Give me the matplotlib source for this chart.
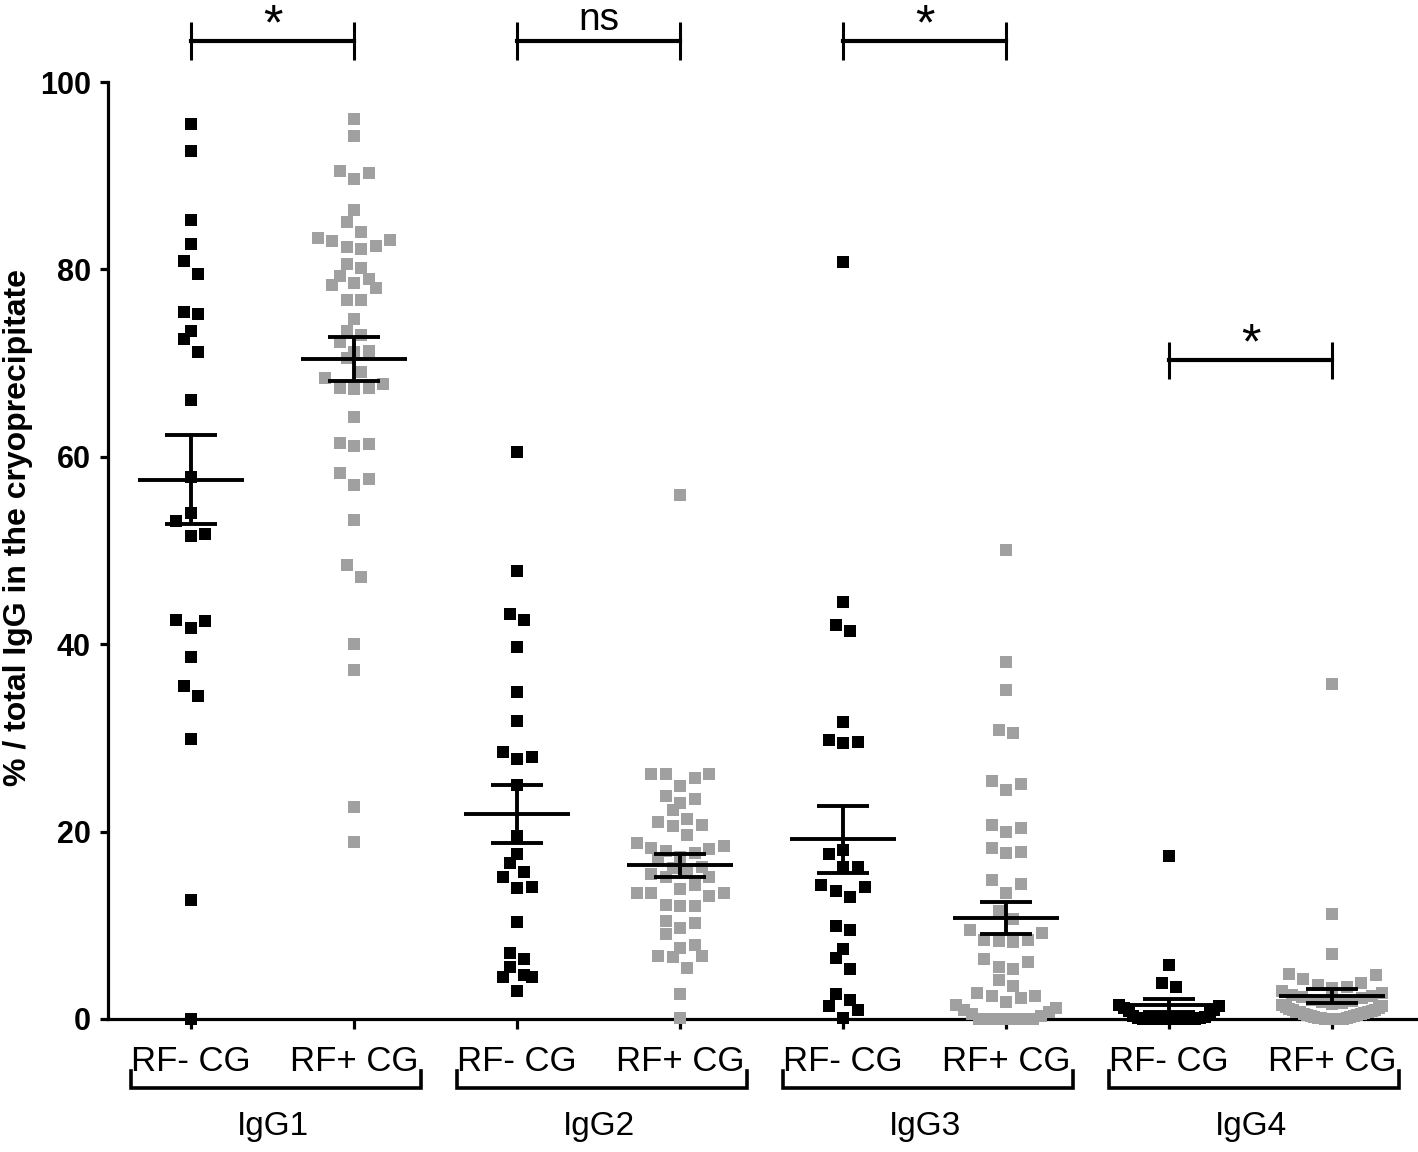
import numpy as np
import matplotlib.pyplot as plt

plt.rcParams['font.family'] = ['Liberation Sans', 'DejaVu Sans']

# categories
subclasses = ['IgG1', 'IgG2', 'IgG3', 'IgG4']
conditions = ['RF- CG', 'RF+ CG']
significance = ['*', 'ns', '*', '*']

# % of total IgG in the cryoprecipitate
igg1_neg = [95.5, 92.6, 85.3, 82.7, 80.9, 79.5, 75.2, 75.5, 73.4, 72.6, 71.2, 66.1, 57.8,
            54.0, 53.1, 51.6, 51.8, 42.5, 41.7, 42.6, 38.6, 35.5, 34.5, 29.9, 12.7, 0.0]
igg1_pos = [96.1, 94.2, 90.5, 89.6, 90.3, 86.3, 85.1, 84.0, 83.1, 82.5, 82.2, 82.4, 83.0,
            83.4, 80.6, 80.2, 79.3, 79.0, 78.6, 78.0, 78.3, 76.7, 76.7, 74.7, 73.4, 73.0,
            72.3, 71.3, 71.2, 70.5, 69.1, 68.4, 67.8, 67.3, 67.2, 67.3, 64.2, 61.4, 61.1,
            61.5, 58.3, 57.0, 57.6, 53.3, 48.4, 47.2, 40.0, 37.2, 22.6, 18.9]
igg2_neg = [60.5, 47.8, 43.2, 42.6, 39.7, 34.9, 31.8, 28.0, 27.7, 28.5, 25.0, 19.5, 17.6,
            16.7, 15.7, 15.2, 14.1, 14.0, 10.4, 7.0, 6.4, 5.5, 4.5, 4.5, 4.7, 3.0]
igg2_pos = [55.9, 26.2, 26.1, 24.9, 25.7, 26.2, 23.8, 23.1, 22.3, 23.5, 21.3, 20.7, 19.6,
            20.6, 21.0, 18.8, 18.2, 17.7, 17.9, 18.1, 18.5, 16.2, 15.7, 15.2, 15.2, 15.5,
            16.1, 13.9, 13.4, 13.1, 14.3, 13.4, 13.5, 12.1, 12.1, 12.2, 10.5, 9.7, 10.2,
            9.1, 7.9, 7.6, 6.7, 6.6, 6.7, 5.4, 2.7, 0.1, 17.3, 17.1]
igg3_neg = [80.8, 44.5, 42.1, 41.4, 31.7, 29.6, 29.5, 29.8, 17.6, 18.0, 16.2, 16.2, 14.3,
            13.7, 13.0, 14.1, 9.5, 9.9, 7.5, 6.5, 5.3, 2.7, 1.4, 2.0, 1.0, 0.1]
igg3_pos = [50.1, 38.1, 35.1, 30.5, 30.8, 25.1, 24.4, 25.4, 20.7, 20.0, 20.4, 17.8, 17.7,
            18.2, 14.8, 13.4, 14.4, 11.5, 10.7, 9.5, 9.2, 8.3, 8.4, 8.4, 8.2, 6.4, 5.6,
            5.3, 6.1, 4.2, 3.5, 2.8, 2.5, 2.2, 2.5, 1.8, 1.5, 1.2, 1.0, 0.8, 0.5, 0.3,
            0.0, 0.0, 0.0, 0.0, 0.0, 0.0, 0.0, 0.0]
igg4_neg = [17.4, 5.8, 3.8, 3.4, 1.5, 1.4, 1.2, 1.0, 0.9, 0.8, 0.3, 0.2, 0.1, 0.1,
            0.0, 0.0, 0.0, 0.0, 0.0, 0.0, 0.0, 0.0, 0.0, 0.0, 0.0, 0.0]
igg4_pos = [35.8, 11.2, 6.9, 4.8, 4.7, 4.3, 3.8, 3.4, 3.6, 3.3, 3.0, 2.8, 2.6, 2.5, 2.3,
            2.2, 2.0, 1.9, 1.8, 1.7, 1.6, 1.5, 1.4, 1.3, 1.2, 1.1, 1.0, 1.0, 0.9, 0.8,
            0.8, 0.7, 0.6, 0.5, 0.5, 0.4, 0.4, 0.3, 0.3, 0.2, 0.2, 0.1, 0.1, 0.1,
            0.0, 0.0, 0.0, 0.0, 0.0, 0.0]

groups = [(igg1_neg, igg1_pos), (igg2_neg, igg2_pos),
          (igg3_neg, igg3_pos), (igg4_neg, igg4_pos)]
colors = ['#000000', '#a0a0a0']
bracket_y = [104.4, 104.4, 104.4, 70.3]


def swarm_offsets(values, row_h=1.6, step=0.089, max_half=0.307):
    '''
    GraphPad-like column scatter: bin values in rows, spread each row center-out
    '''
    vals = np.asarray(values, dtype=float)
    order = np.argsort(vals, kind='stable')
    v = vals[order]
    offs = np.zeros(len(v))
    i = 0
    while i < len(v):
        j = i
        while j < len(v) and v[j] - v[i] < row_h:
            j += 1
        n = j - i
        s = step
        if n > 1 and (n - 1) * step / 2 > max_half:
            s = 2 * max_half / (n - 1)
        slots = []
        for k in range(n):
            if n % 2 == 1:
                m = (k + 1) // 2
                slots.append(m if k % 2 == 1 else -m)
            else:
                m = k // 2 + 0.5
                slots.append(m if k % 2 == 0 else -m)
        offs[i:j] = np.array(slots) * s
        i = j
    out = np.zeros(len(v))
    out[order] = offs
    return out


fig = plt.figure(figsize=(14.18, 11.52), dpi=100)
ax = fig.add_axes([108 / 1418, 1 - 1019 / 1152, (1417 - 108) / 1418, (1019 - 82) / 1152])

lw = 2.8
for gi, pair in enumerate(groups):
    for ci, vals in enumerate(pair):
        x0 = 2 * gi + ci
        vals = np.asarray(vals, dtype=float)
        xs = x0 + swarm_offsets(vals)
        ax.scatter(xs, vals, marker='s', s=82, color=colors[ci], linewidths=0,
                   zorder=3, clip_on=False)
        # mean +- SEM
        m = vals.mean()
        sem = vals.std(ddof=1) / np.sqrt(len(vals))
        ax.hlines(m, x0 - 0.325, x0 + 0.325, color='black', lw=lw, zorder=4)
        ax.vlines(x0, m - sem, m + sem, color='black', lw=lw, zorder=4)
        ax.hlines([m - sem, m + sem], x0 - 0.16, x0 + 0.16, color='black', lw=lw, zorder=4)

    # significance bracket
    by = bracket_y[gi]
    xa, xb = 2 * gi, 2 * gi + 1
    ax.plot([xa, xb], [by, by], color='black', lw=3.0, clip_on=False, zorder=4)
    ax.vlines([xa, xb], by - 2.0, by + 2.0, color='black', lw=2.2, clip_on=False, zorder=4)
    if significance[gi] == '*':
        ax.text((xa + xb) / 2, by + 0.2, '*', ha='center', va='baseline',
                fontsize=36, clip_on=False)
    else:
        ax.text((xa + xb) / 2, by + 1.1, significance[gi], ha='center', va='baseline',
                fontsize=28, clip_on=False)

    # group bracket under the axis
    c = 2 * gi + 0.52
    ax.plot([c - 0.89, c - 0.89, c + 0.89, c + 0.89], [-5.55, -7.36, -7.36, -5.55],
            color='black', lw=2.6, clip_on=False, solid_joinstyle='miter')
    ax.text(2 * gi + 0.5, -11.5, subclasses[gi], ha='center', va='center',
            fontsize=24, clip_on=False)

ax.set_xlim(-0.509, 7.52)
ax.set_ylim(0, 100)
ax.set_xticks(range(8))
ax.set_xticklabels(conditions * 4)
ax.set_yticks(range(0, 101, 20))

for side in ['top', 'right']:
    ax.spines[side].set_visible(False)
for side in ['left', 'bottom']:
    ax.spines[side].set_linewidth(2.3)

ax.tick_params(axis='y', length=6, width=2.3, pad=6.5, labelsize=22)
ax.tick_params(axis='x', length=7.5, width=2.3, pad=11, labelsize=25)
for lbl in ax.get_yticklabels():
    lbl.set_fontweight('bold')

ax.set_ylabel('% / total IgG in the cryoprecipitate', fontsize=23, fontweight='bold',
              ha='center', va='center')
ax.yaxis.set_label_coords(-0.0687, 0.525)

fig.savefig('out.png', dpi=100)
